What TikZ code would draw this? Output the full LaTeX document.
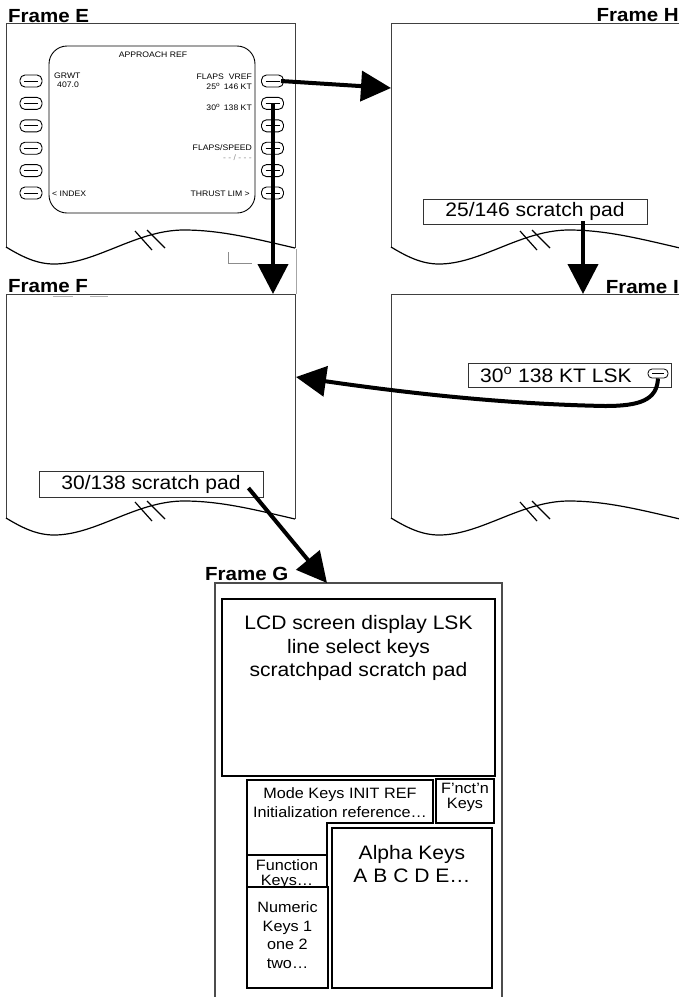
\documentclass[tikz,border=0pt]{standalone}
\usepackage{fontspec}
\setmainfont{Liberation Sans}[FakeStretch=1.08]
\usetikzlibrary{arrows.meta}
\tikzset{
 frameline/.style={draw=black!75, line width=1pt},
 waveline/.style={draw=black, line width=1.2pt},
 bigarrow/.style={line width=4pt, -{Triangle[length=30pt,width=30pt]}},
 flabel/.style={font=\fontsize{19}{22}\selectfont\bfseries, inner sep=0pt},
 scr/.style={font=\fontsize{8}{9}\selectfont, inner sep=0pt},
 lcdkey/.style={draw=black, line width=0.9pt, rounded corners=5pt, minimum width=22pt, minimum height=12pt, inner sep=0pt,
   path picture={\draw[line width=0.8pt] ([xshift=4pt]path picture bounding box.west) -- ([xshift=-4pt]path picture bounding box.east);}},
 smallkey/.style={draw=black, line width=0.8pt, rounded corners=4pt, minimum width=20pt, minimum height=9pt, inner sep=0pt,
   path picture={\draw[line width=0.8pt] ([xshift=4pt]path picture bounding box.west) -- ([xshift=-4pt]path picture bounding box.east);}},
 padbox/.style={draw=black!80, line width=0.9pt, inner sep=0pt},
 padtext/.style={font=\fontsize{19.5}{22}\selectfont, inner sep=0pt},
 gbox/.style={draw=black, line width=1.5pt},
 gtext/.style={font=\fontsize{15}{19}\selectfont, align=center, inner sep=0pt},
}
\newcommand{\myframe}[2]{%
 \begin{scope}[shift={(#1,#2)}]
  \draw[frameline] (0,224) -- (0,0) -- (289,0) -- (289,225);
  \draw[waveline] (0,224) .. controls (15,233) and (30,241) .. (48,241)
    .. controls (90,241) and (130,207) .. (178,207)
    .. controls (215,207) and (250,216) .. (289,225);
  \draw[waveline] (129,208) -- (146,227) (141,207) -- (159,225);
 \end{scope}}
\begin{document}
\begin{tikzpicture}[x=1pt,y=-1pt]
\useasboundingbox (0,0) rectangle (679,997);

% ---------- frames ----------
\myframe{6}{23}
\myframe{391}{23}
\myframe{6}{294}
\myframe{391}{294}

\node[flabel, anchor=base west] (labE) at (8,22) {Frame E};
\node[flabel, anchor=base east] (labH) at (679,21) {Frame H};
\node[flabel, anchor=base west] (labF) at (8,292.5) {Frame F};
\node[flabel, anchor=base east] (labI) at (679,293) {Frame I};
\node[flabel, anchor=base west] (labG) at (205,580) {Frame G};

% faint artifacts
\draw[black!35, line width=0.7pt] (296,249) -- (296,294);
\draw[black!45, line width=0.7pt] (228,252) -- (228,263) -- (252,263);
\draw[black!30, line width=0.8pt] (53,296) -- (73,296) (90,296) -- (108,296);

% ---------- Frame E screen ----------
\draw[black, line width=0.9pt, rounded corners=18pt] (49,46) rectangle (255,213);
\foreach \i/\yy in {1/81,2/103.4,3/125.8,4/148.2,5/170.6,6/193}{
  \node[lcdkey] (kL\i) at (31,\yy) {};
  \node[lcdkey] (kR\i) at (272.5,\yy) {};
}
\node[scr, anchor=base] (tAR) at (153,57) {APPROACH REF};
\node[scr, anchor=base west] (tGR) at (54,78.5) {GRWT};
\node[scr, anchor=base west] (tGW) at (57,87) {407.0};
\node[scr, anchor=base east] (tFV) at (252,79.5) {FLAPS\ \ VREF};
\node[scr, anchor=base east] (t25) at (252,89) {25\textsuperscript{o}\ \,146 KT};
\node[scr, anchor=base east] (t30) at (252,110) {30\textsuperscript{o}\ \,138 KT};
\node[scr, anchor=base east] (tFS) at (252,150) {FLAPS/SPEED};
\node[scr, anchor=base east, text=black!45] (tDS) at (252,160) {- - / - - -};
\node[scr, anchor=base west] (tIX) at (52,196) {< INDEX};
\node[scr, anchor=base east] (tTL) at (250,196) {THRUST LIM >};

% ---------- Frame H pad ----------
\node[padbox, minimum width=224pt, minimum height=25pt] (padH) at (535,211.5) {};
\node[padtext] (padHt) at (padH.center) {25/146 scratch pad};

% ---------- Frame F pad ----------
\node[padbox, minimum width=224pt, minimum height=26pt] (padF) at (151,484) {};
\node[padtext] (padFt) at (padF.center) {30/138 scratch pad};

% ---------- Frame I LSK ----------
\node[padbox, minimum width=203pt, minimum height=24pt] (lsk) at (569.5,375) {};
\node[padtext, anchor=west] (lskt) at (480,375) {30\textsuperscript{o} 138 KT LSK};
\node[smallkey] (lskkey) at (658,373.5) {};

% ---------- Frame G ----------
\draw[draw=black!70, line width=2pt] (215,997) -- (215,583) -- (502,583) -- (502,997);
\node[draw=black, line width=1.8pt, minimum width=273pt, minimum height=177pt, inner sep=0pt] (lcd) at (358.5,687.5) {};
\node[font=\fontsize{19.5}{23.5}\selectfont, align=center, inner sep=0pt, anchor=north] (lcdt) at (358.5,615.5)
  {LCD screen display LSK\\line select keys\\scratchpad scratch pad};
\draw[gbox] (247,780) -- (433,780) -- (433,823) -- (327,823) -- (327,855) -- (247,855) -- cycle;
\node[gtext, anchor=north] (modet) at (340,787.5) {Mode Keys INIT REF\\Initialization reference\ldots};
\node[gbox, minimum width=58pt, minimum height=44pt, inner sep=0pt] (fnk) at (465,801) {};
\node[gtext, font=\fontsize{15}{15}\selectfont, anchor=north] (fnkt) at (465,782.5) {F’nct’n\\Keys};
\node[gbox, minimum width=80pt, minimum height=32pt, inner sep=0pt] (funk) at (287,871) {};
\node[gtext, font=\fontsize{15}{14.5}\selectfont, anchor=north] (funkt) at (287,859.5) {Function\\Keys\ldots};
\node[gbox, minimum width=81pt, minimum height=101pt, inner sep=0pt] (numk) at (287.5,937.5) {};
\node[gtext, font=\fontsize{15}{18.7}\selectfont, anchor=north] (numkt) at (287.5,901.5) {Numeric\\Keys 1\\one 2\\two\ldots};
\node[gbox, minimum width=160pt, minimum height=160pt, inner sep=0pt] (alk) at (412,908) {};
\node[font=\fontsize{19.5}{23}\selectfont, align=center, inner sep=0pt, anchor=north] (alkt) at (412,845) {Alpha Keys\\A B C D E\ldots};

% ---------- arrows ----------
\coordinate (hIn) at (391,88);
\coordinate (fTop) at (273,294);
\coordinate (iTop) at (583,294);
\coordinate (fRight) at (296,377);
\coordinate (gTop) at (327,583);

\draw[bigarrow] ([xshift=-3pt]kR1.east) -- (hIn);
\draw[bigarrow] (kR2.center -| fTop) -- (fTop);
\draw[bigarrow] ([yshift=3pt]padH.south -| iTop) -- (iTop);
\draw[bigarrow] (lskkey.south) .. controls (657,400) and (640,406) .. (605,406)
   .. controls (500,404) and (400,392) .. (fRight);
\draw[bigarrow] ([xshift=-15pt,yshift=-4pt]padF.east) -- (gTop);
\end{tikzpicture}
\end{document}
